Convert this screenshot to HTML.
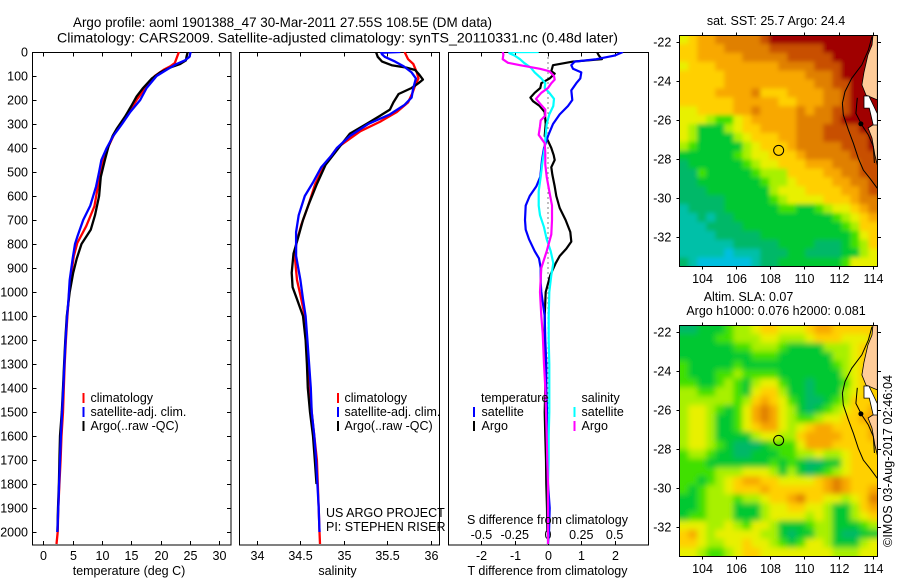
<!DOCTYPE html>
<html>
<head>
<meta charset="utf-8">
<title>Argo profile</title>
<style>
html,body{margin:0;padding:0;background:#fff;}
svg{display:block;font-family:"Liberation Sans",sans-serif;font-size:12.5px;fill:#000;}
</style>
</head>
<body>
<svg id="fig" xmlns="http://www.w3.org/2000/svg" width="900" height="580" viewBox="0 0 900 580">
<defs>
<clipPath id="clipSst"><rect x="679.3" y="35" width="198" height="231"/></clipPath>
<clipPath id="clipSla"><rect x="679.3" y="325" width="198" height="231.5"/></clipPath>
<clipPath id="clipP1"><rect x="32.5" y="52" width="198.5" height="493"/></clipPath>
<clipPath id="clipP2"><rect x="239.5" y="52" width="200" height="493"/></clipPath>
<clipPath id="clipP3"><rect x="448.5" y="52" width="200" height="493"/></clipPath>
<filter id="blurSst" filterUnits="userSpaceOnUse" x="640" y="0" width="260" height="300"><feGaussianBlur stdDeviation="2"/></filter>
<filter id="blurSla" filterUnits="userSpaceOnUse" x="640" y="290" width="260" height="300"><feGaussianBlur stdDeviation="3"/></filter>
</defs>
<text x="73" y="27" font-size="14" textLength="419" lengthAdjust="spacingAndGlyphs">Argo profile: aoml 1901388_47 30-Mar-2011 27.55S 108.5E (DM data)</text>
<text x="57" y="42.5" font-size="14" textLength="561" lengthAdjust="spacingAndGlyphs">Climatology: CARS2009. Satellite-adjusted climatology: synTS_20110331.nc (0.48d later)</text>

<g id="maps"></g>
<g id="axes"></g>
<g id="series"></g>

<g>
<rect x="82.5" y="393" width="2" height="10" fill="#f00"/>
<rect x="82.5" y="407" width="2" height="10" fill="#00f"/>
<rect x="82.5" y="421" width="2" height="10" fill="#000"/>
<text x="90.5" y="402">climatology</text>
<text x="90.5" y="416">satellite-adj. clim.</text>
<text x="90.5" y="430">Argo(..raw -QC)</text>
</g>
<g>
<rect x="337" y="393" width="2" height="10" fill="#f00"/>
<rect x="337" y="407" width="2" height="10" fill="#00f"/>
<rect x="337" y="421" width="2" height="10" fill="#000"/>
<text x="344.5" y="402">climatology</text>
<text x="344.5" y="416">satellite-adj. clim.</text>
<text x="344.5" y="430">Argo(..raw -QC)</text>
<text x="326" y="517">US ARGO PROJECT</text>
<text x="326" y="531">PI: STEPHEN RISER</text>
</g>
<g>
<rect x="473" y="407" width="2" height="10" fill="#00f"/>
<rect x="473" y="421" width="2" height="10" fill="#000"/>
<rect x="573.5" y="407" width="2" height="10" fill="#0ff"/>
<rect x="573.5" y="421" width="2" height="10" fill="#f0f"/>
<text x="481" y="402">temperature</text>
<text x="481.5" y="416">satellite</text>
<text x="481.5" y="430">Argo</text>
<text x="581.5" y="402">salinity</text>
<text x="581.5" y="416">satellite</text>
<text x="581.5" y="430">Argo</text>
</g>
<text x="129" y="575" text-anchor="middle">temperature (deg C)</text>
<text x="337.5" y="575" text-anchor="middle">salinity</text>
<text x="547.5" y="524" text-anchor="middle">S difference from climatology</text>
<text x="547.5" y="575" text-anchor="middle">T difference from climatology</text>
<text x="776" y="25" text-anchor="middle">sat. SST: 25.7 Argo: 24.4</text>
<text x="748.5" y="301" text-anchor="middle">Altim. SLA: 0.07</text>
<text x="776" y="315" text-anchor="middle">Argo h1000: 0.076 h2000: 0.081</text>
<text transform="translate(892,547) rotate(-90)" textLength="172">©IMOS 03-Aug-2017 02:46:04</text>
</svg>
<script>
// ---- profile data (depth in metres) ----
const depthTicks = [0,100,200,300,400,500,600,700,800,900,1000,1100,1200,1300,1400,1500,1600,1700,1800,1900,2000];
const tempTicks = [0,5,10,15,20,25,30];
const salTicks = [34,34.5,35,35.5,36];
const tDiffTicks = [-2,-1,0,1,2];
const sDiffTicks = [-0.5,-0.25,0,0.25,0.5];
const sDiffLabels = ['-0.5','-0.25','0','0.25','0.5'];
const latTicks = [-22,-24,-26,-28,-30,-32];
const lonTicks = [104,106,108,110,112,114];

const climTDepths = [0,46,60,74,100,143,200,254,337,393,476,560,643,726,796,851,935,1004,1100,1200,1300,1400,1500,1600,1700,1800,1900,2000,2050];
const climTValues = [23.1,22.4,21.6,20.5,19,17.6,15.9,14.5,12.2,11.1,9.9,9.3,8.7,7.3,5.8,5.2,4.7,4.4,4.1,3.85,3.65,3.5,3.35,3.1,2.95,2.75,2.55,2.45,2.25];
const argoTDepths = [0,20,35,50,65,85,110,150,185,225,270,320,350,393,450,520,600,680,740,800,860,920,1000,1100,1200,1300,1400,1500,1600,1700,1800,1900,2000];
const argoTValues = [24.6,24.4,24.3,23.3,21.6,19.9,18.5,17,15.9,15,13.9,12.5,11.8,11.1,10.5,9.8,9.5,8.8,8.1,6.5,5.7,5.1,4.5,4.0,3.75,3.55,3.35,3.15,2.85,2.75,2.65,2.5,2.4];
const satTDepths = [0,20,35,50,70,100,150,200,250,300,350,400,450,500,560,640,700,770,800,860,950,1030,1100,1200,1300,1400,1500,1600,1700,1800,1900,2000];
const satTValues = [25.1,24.9,24.1,22.7,21.3,19.3,17.6,16.5,14.8,13.4,11.9,10.8,9.9,9.5,9,8,6.8,5.8,5.4,5,4.5,4.3,4.05,3.8,3.6,3.4,3.2,3.0,2.85,2.7,2.55,2.4];

const climSDepths = [0,30,50,85,110,140,170,210,250,290,330,400,470,550,640,720,800,870,950,1030,1100,1200,1300,1400,1500,1600,1700,1800,1900,2000,2050];
const climSValues = [35.70,35.74,35.80,35.84,35.86,35.82,35.79,35.74,35.61,35.42,35.19,34.92,34.78,34.67,34.59,34.51,34.45,34.44,34.46,34.51,34.55,34.57,34.59,34.61,34.63,34.66,34.69,34.70,34.71,34.72,34.725];
const argoSDepths = [0,20,40,55,65,75,95,115,130,150,175,210,240,265,300,340,400,470,550,640,700,790,840,920,980,1030,1100,1200,1300,1400,1500,1600,1700,1800];
const argoSValues = [35.37,35.39,35.44,35.55,35.72,35.82,35.87,35.91,35.86,35.78,35.63,35.57,35.53,35.42,35.26,35.07,34.94,34.79,34.69,34.59,34.53,34.46,34.42,34.40,34.41,34.46,34.53,34.56,34.575,34.585,34.61,34.645,34.665,34.685];
const satSDepths = [0,3,10,20,40,60,85,110,150,190,220,260,300,350,400,430,480,540,600,680,750,850,950,1030,1100,1200,1300,1400,1500,1600,1700,1800,1900,2000];
const satSValues = [35.65,35.43,35.44,35.47,35.59,35.69,35.78,35.83,35.80,35.78,35.70,35.53,35.28,35.07,34.92,34.86,34.74,34.65,34.55,34.48,34.45,34.45,34.50,34.53,34.56,34.58,34.60,34.62,34.63,34.66,34.68,34.695,34.71,34.72];

const satDtDepths = [0,15,30,40,55,70,85,110,130,160,200,225,260,300,350,400,450,520,560,600,640,700,740,780,830,860,900,960,1000,1100,1200,1300,1400,1500,1600,1700,1800,1900,2000,2050];
const satDtValues = [2.25,2.0,1.45,0.8,0.7,0.75,1.0,0.97,0.85,0.7,0.73,0.6,0.35,0.15,0,-0.12,-0.18,-0.23,-0.35,-0.55,-0.67,-0.69,-0.67,-0.57,-0.4,-0.27,-0.22,-0.22,-0.2,-0.1,-0.08,-0.05,-0.05,-0.03,-0.03,-0.02,0,0.05,0.03,0];
const argoDtDepths = [0,15,30,40,55,80,90,110,130,150,170,190,205,225,250,300,350,370,400,430,450,480,510,560,600,650,700,750,790,820,850,880,930,1000,1100,1200,1300,1400,1500,1600,1700,1800,1900,2000];
const argoDtValues = [1.47,1.53,1.62,0.75,0.15,0.1,0.2,0.05,-0.2,-0.23,-0.4,-0.53,-0.45,-0.25,-0.1,-0.07,-0.1,0,0.1,0.17,0.2,0.1,0.13,0.2,0.25,0.35,0.53,0.67,0.7,0.55,0.35,0.23,0.07,-0.07,-0.1,-0.1,-0.08,-0.08,-0.1,-0.08,-0.06,-0.05,-0.03,-0.02];
const satDsDepths = [0,1,5,15,30,45,65,85,110,130,150,170,195,225,260,300,350,400,450,520,580,640,680,730,780,830,880,930,1000,1100,1200,1300,1400,1500,1600,1700,1800,1900,2000,2050];
const satDsValues = [-0.07,-0.29,-0.29,-0.25,-0.21,-0.18,-0.13,-0.10,-0.05,-0.02,-0.025,0.01,0.045,0.04,0.01,-0.01,-0.018,-0.025,-0.04,-0.055,-0.07,-0.07,-0.06,-0.03,-0.01,0.02,0.04,0.025,0.01,0.005,0.005,0.01,0.01,0.01,0.005,0.005,0,0,0,0];
const argoDsDepths = [0,10,30,45,55,70,80,100,115,130,150,170,195,215,240,265,285,310,345,380,420,470,520,580,640,700,760,830,900,1000,1100,1172,1300,1400,1500,1600,1700,1800,2050];
const argoDsValues = [-0.34,-0.335,-0.34,-0.30,-0.21,-0.06,0.01,0.045,0.05,0.025,0,-0.05,-0.09,-0.06,-0.02,-0.02,-0.055,-0.06,-0.07,-0.025,-0.02,-0.02,-0.01,0.01,0.03,0.03,0.025,-0.01,-0.05,-0.06,-0.05,-0.04,-0.03,-0.02,-0.015,-0.01,-0.005,0,0];

// ---- map data: colour level per grid cell, row by row from north to south ----
const sstRow00 = [6,7,8,8,9,9,9,9,9,10,11,11,11,11,11,11,11,11,11,11,11,11];
const sstRow01 = [7,7,8,8,8,9,9,9,9,9,10,10,10,10,10,10,11,11,11,11,11,11];
const sstRow02 = [7,7,8,8,8,8,8,9,9,9,9,9,10,10,10,10,10,11,11,11,11,11];
const sstRow03 = [6,7,7,7,8,8,8,8,8,8,8,9,9,9,9,10,10,10,11,11,11,11];
const sstRow04 = [7,7,7,7,7,8,8,8,8,8,8,8,8,8,9,9,9,10,11,11,11,11];
const sstRow05 = [7,7,7,7,7,8,8,8,8,8,8,8,8,8,8,9,9,10,10,11,11,11];
const sstRow06 = [7,7,7,7,8,8,8,8,9,7,7,7,8,8,8,8,9,9,10,11,11,11];
const sstRow07 = [7,7,7,7,7,7,8,8,8,8,8,7,7,8,8,8,9,9,10,11,11,11];
const sstRow08 = [6,6,7,7,7,7,8,8,9,8,8,8,8,9,8,9,9,10,10,11,11,11];
const sstRow09 = [6,6,6,5,4,4,6,7,8,8,8,8,8,9,9,9,9,10,11,11,11,11];
const sstRow10 = [6,5,3,3,3,5,6,7,7,8,8,8,8,9,9,9,10,10,10,10,11,11];
const sstRow11 = [6,5,3,3,3,3,5,6,7,7,7,8,8,9,9,9,10,10,10,10,10,11];
const sstRow12 = [5,4,3,3,3,3,3,5,6,7,7,7,8,9,9,9,9,9,10,10,10,11];
const sstRow13 = [3,3,3,3,3,3,4,5,6,6,7,7,7,8,9,9,9,9,9,10,10,10];
const sstRow14 = [2,3,3,3,3,3,3,4,5,6,6,7,7,7,8,8,8,9,9,9,10,10];
const sstRow15 = [2,2,4,3,3,3,3,3,4,5,5,5,7,7,7,7,8,8,9,9,10,10];
const sstRow16 = [2,2,3,3,3,3,3,3,3,4,5,5,6,7,7,7,7,8,8,9,9,10];
const sstRow17 = [2,2,2,3,3,3,3,3,3,3,5,6,6,6,7,7,7,7,8,8,9,10];
const sstRow18 = [2,2,2,2,2,3,3,3,3,3,4,5,6,6,6,6,7,7,7,8,9,9];
const sstRow19 = [1,2,2,2,2,3,3,3,3,3,3,4,4,3,3,4,5,6,6,7,8,9];
const sstRow20 = [1,1,2,1,2,2,3,3,3,3,3,3,3,3,3,3,3,4,5,6,7,8];
const sstRow21 = [1,1,1,2,2,2,2,3,3,3,3,3,3,3,3,3,3,3,4,5,7,7];
const sstRow22 = [1,1,1,1,2,2,2,2,2,3,3,3,3,3,3,3,3,3,3,4,6,7];
const sstRow23 = [1,1,1,1,1,1,2,2,2,2,2,3,3,3,3,2,2,2,3,4,5,7];
const sstRow24 = [1,1,1,1,1,0,1,1,1,2,2,2,3,3,2,2,2,2,3,3,5,6];
const sstRow25 = [2,1,0,0,0,0,0,0,1,2,2,3,3,3,3,3,3,3,4,6,6,6];
const sstGrid = [sstRow00,sstRow01,sstRow02,sstRow03,sstRow04,sstRow05,sstRow06,sstRow07,sstRow08,sstRow09,sstRow10,sstRow11,sstRow12,sstRow13,sstRow14,sstRow15,sstRow16,sstRow17,sstRow18,sstRow19,sstRow20,sstRow21,sstRow22,sstRow23,sstRow24,sstRow25];

const slaRow00 = [2,2,3,3,3,4,5,5,6,7,7,6,6,6,7,8,8,7,7,7,7,7];
const slaRow01 = [3,3,3,3,4,4,5,5,5,6,6,5,5,5,6,7,7,7,6,6,6,7];
const slaRow02 = [3,3,3,3,3,3,4,4,5,5,5,4,3,3,3,3,5,5,5,6,7,7];
const slaRow03 = [3,3,3,3,3,3,3,3,4,4,4,3,3,3,3,3,3,5,5,6,7,7];
const slaRow04 = [4,3,3,3,3,3,4,3,3,3,3,3,3,3,3,3,3,4,5,6,7,7];
const slaRow05 = [4,3,3,3,4,4,5,4,4,4,4,3,3,3,3,3,3,3,5,6,7,7];
const slaRow06 = [4,4,3,3,4,5,4,3,5,6,6,4,3,3,2,3,3,3,4,6,7,7];
const slaRow07 = [5,5,4,4,5,5,4,3,6,7,7,5,3,3,2,3,3,3,5,6,7,7];
const slaRow08 = [5,5,5,5,5,5,4,5,7,8,7,6,4,3,2,2,3,4,5,7,7,7];
const slaRow09 = [5,6,6,5,4,3,4,6,8,9,8,6,5,3,2,3,4,5,6,7,7,8];
const slaRow10 = [5,6,6,5,3,3,4,6,8,9,8,6,5,4,4,5,6,6,7,7,8,8];
const slaRow11 = [5,6,6,5,3,3,4,6,7,8,8,6,5,6,7,8,8,7,7,7,7,8];
const slaRow12 = [5,6,6,5,3,3,3,3,5,6,6,5,5,7,8,8,8,8,7,7,7,8];
const slaRow13 = [5,6,6,5,4,3,2,2,2,3,4,4,4,6,8,8,8,7,7,7,7,7];
const slaRow14 = [4,5,5,4,3,3,2,2,3,3,3,4,4,5,5,6,5,5,6,7,7,7];
const slaRow15 = [4,4,4,3,3,3,3,3,3,3,4,3,4,3,2,2,3,3,6,7,7,7];
const slaRow16 = [4,4,4,4,5,5,5,6,6,6,5,3,5,3,2,3,4,5,6,7,7,7];
const slaRow17 = [4,4,3,4,5,6,7,8,8,7,7,6,6,6,6,7,8,9,8,7,7,7];
const slaRow18 = [4,3,4,5,5,6,7,7,7,8,7,7,7,7,7,7,8,9,8,7,7,8];
const slaRow19 = [3,3,4,5,5,5,4,5,5,6,7,7,8,9,7,7,6,6,5,6,7,9];
const slaRow20 = [3,3,4,5,5,5,3,3,3,5,6,6,7,7,6,6,5,3,3,5,7,8];
const slaRow21 = [3,4,4,5,5,5,3,3,3,5,6,6,6,6,5,6,5,3,3,5,6,7];
const slaRow22 = [6,6,6,5,5,6,5,4,6,6,5,3,3,3,4,5,5,3,3,3,4,5];
const slaRow23 = [7,8,6,5,6,6,6,6,6,5,5,3,2,3,3,5,5,3,2,2,3,3];
const slaRow24 = [7,7,6,5,5,6,6,7,6,6,5,4,3,4,6,6,5,3,3,3,5,6];
const slaRow25 = [6,6,5,4,4,5,6,7,7,6,6,6,6,6,6,6,6,5,5,5,6,6];
const slaGrid = [slaRow00,slaRow01,slaRow02,slaRow03,slaRow04,slaRow05,slaRow06,slaRow07,slaRow08,slaRow09,slaRow10,slaRow11,slaRow12,slaRow13,slaRow14,slaRow15,slaRow16,slaRow17,slaRow18,slaRow19,slaRow20,slaRow21,slaRow22,slaRow23,slaRow24,slaRow25];

const levelColors = ['#00bfe0','#00c0a8','#00b868','#00c830','#40e000','#a8f000','#e8f000','#ffd000','#f8a800','#e08000','#c85000','#a00000'];

const shelfLon = [113.96,113.75,113.36,112.77,112.38,112.23,112.28,112.58,112.87,113.16,113.45,113.84,114.27];
const shelfLat = [-21.71,-22.39,-23.16,-23.85,-24.53,-25.13,-25.73,-26.5,-27.19,-27.96,-28.56,-28.99,-29.5];
const coastLon = [113.1,113.05,113.02,113.36,113.75,114.04,114.1];
const coastLat = [-24.85,-25.3,-25.65,-26.25,-26.76,-27.36,-28.2];
const landNorthLon = [114.02,114.27,114.27,113.61,113.37,113.49,113.72,113.96];
const landNorthLat = [-21.62,-21.62,-24.96,-24.71,-24.19,-23.53,-22.65,-22.14];
const landSouthLon = [113.73,114.27,114.27,114.13,113.96];
const landSouthLat = [-26.4,-26.1,-28.3,-27.79,-26.92];
const bayLon = [113.49,113.78,114.27,114.27,114.03,113.8,113.49];
const bayLat = [-24.76,-24.76,-25.66,-26.25,-26.25,-25.38,-25.38];
const floatLon = 108.5;
const floatLat = -27.55;

// ---- axis functions ----
const NS = 'http://www.w3.org/2000/svg';
const yDepth = d => 52 + 0.24 * d;
const xTemp = t => 43.3 + 5.87 * t;
const xSal = s => 257 + 86.85 * (s - 34);
const xDt = v => 548 + 33.3 * v;
const xDs = v => 548 + 133.2 * v;
const xLon = l => 701.7 + 17.1 * (l - 104);
const ySst = l => 42.3 + 19.47 * (-22 - l);
const ySla = l => 332.3 + 19.47 * (-22 - l);

function mk(parent, tag, attrs) {
  const el = document.createElementNS(NS, tag);
  for (const k in attrs) el.setAttribute(k, attrs[k]);
  parent.appendChild(el);
  return el;
}
function tickLine(parent, x1, y1, x2, y2) {
  const el = mk(parent, 'line', {x1, y1, x2, y2, stroke: '#000', 'stroke-width': 1, 'shape-rendering': 'crispEdges'});
  
  
}
function label(parent, x, y, anchor, txt) {
  const el = mk(parent, 'text', {x, y, 'text-anchor': anchor});
  el.textContent = txt;
  
  
}
function frame(parent, x, y, w, h) {
  const el = mk(parent, 'rect', {x, y, width: w, height: h, fill: 'none', stroke: '#000', 'stroke-width': 1, 'shape-rendering': 'crispEdges'});
  
  
}
function drawLine(parent, clip, xs, ys, fx, color, w) {
  const pts = xs.map((v, i) => fx(v).toFixed(1) + ',' + yDepth(ys[i]).toFixed(1)).join(' ');
  const el = mk(parent, 'polyline', {points: pts, fill: 'none', stroke: color, 'stroke-width': w, 'stroke-linejoin': 'round', 'clip-path': 'url(#' + clip + ')'});
  
  
}

// ---- profile panels ----
const axesG = document.getElementById('axes');
const seriesG = document.getElementById('series');
frame(axesG, 32.5, 52.5, 198.5, 492.5);
frame(axesG, 239.5, 52.5, 200, 492.5);
frame(axesG, 448.5, 52.5, 200, 492.5);
depthTicks.forEach(d => {
  const y = Math.round(yDepth(d)) + 0.5;
  tickLine(axesG, 32.5, y, 36.5, y);
  tickLine(axesG, 227, y, 231, y);
  label(axesG, 28, y + 4, 'end', String(d));
});
tempTicks.forEach(t => {
  const x = Math.round(xTemp(t)) + 0.5;
  tickLine(axesG, x, 52.5, x, 56.5);
  tickLine(axesG, x, 541, x, 545);
  label(axesG, x, 560, 'middle', String(t));
});
salTicks.forEach(s => {
  const x = Math.round(xSal(s)) + 0.5;
  tickLine(axesG, x, 52.5, x, 56.5);
  tickLine(axesG, x, 541, x, 545);
  label(axesG, x, 560, 'middle', String(s));
});
tDiffTicks.forEach(v => {
  const x = Math.round(xDt(v)) + 0.5;
  tickLine(axesG, x, 52.5, x, 56.5);
  tickLine(axesG, x, 541, x, 545);
  label(axesG, x, 560, 'middle', String(v));
});
sDiffTicks.forEach((v, i) => {
  label(axesG, xDs(v), 539, 'middle', sDiffLabels[i]);
});
const zeroLine = mk(axesG, 'line', {x1: xDt(0), y1: 52.5, x2: xDt(0), y2: 545, stroke: '#000', 'stroke-width': 1, 'stroke-dasharray': '1 4'});



drawLine(seriesG, 'clipP1', climTValues, climTDepths, xTemp, '#f00', 2.3);
drawLine(seriesG, 'clipP1', argoTValues, argoTDepths, xTemp, '#000', 2.3);
drawLine(seriesG, 'clipP1', satTValues, satTDepths, xTemp, '#00f', 2.3);
drawLine(seriesG, 'clipP2', climSValues, climSDepths, xSal, '#f00', 2.3);
drawLine(seriesG, 'clipP2', argoSValues, argoSDepths, xSal, '#000', 2.3);
drawLine(seriesG, 'clipP2', satSValues, satSDepths, xSal, '#00f', 2.3);
drawLine(seriesG, 'clipP3', argoDtValues, argoDtDepths, xDt, '#000', 2.2);
drawLine(seriesG, 'clipP3', satDtValues, satDtDepths, xDt, '#00f', 2.2);
drawLine(seriesG, 'clipP3', satDsValues, satDsDepths, xDs, '#0ff', 2.2);
drawLine(seriesG, 'clipP3', argoDsValues, argoDsDepths, xDs, '#f0f', 2.2);

// ---- maps ----
const mapsG = document.getElementById('maps');
function drawMap(grid, top, bottom, fy, clip, blur, cellName) {
  const outer = mk(mapsG, 'g', {'clip-path': 'url(#' + clip + ')'});
  
  
  const cells = mk(outer, 'g', {filter: 'url(#' + blur + ')'});
  
  
  const cw = 9, ch = 8.9, left = 679.3;
  grid.forEach((row, j) => row.forEach((lvl, i) => {
    const ex0 = i === 0 ? 20 : 0, ex1 = i === row.length - 1 ? 20 : 0;
    const ey0 = j === 0 ? 20 : 0, ey1 = j === grid.length - 1 ? 20 : 0;
    const c = mk(cells, 'rect', {x: left + i * cw - ex0, y: top + j * ch - ey0, width: cw + 0.5 + ex0 + ex1, height: ch + 0.5 + ey0 + ey1, fill: levelColors[lvl]});
    
    
  }));
  const poly = (lons, lats, fill) => {
    const pts = lons.map((l, i) => xLon(l).toFixed(1) + ',' + fy(lats[i]).toFixed(1)).join(' ');
    const el = mk(outer, 'polygon', {points: pts, fill: fill, stroke: '#000', 'stroke-width': 0.8});
    
    
  };
  poly(landNorthLon, landNorthLat, '#ffcc99');
  poly(landSouthLon, landSouthLat, '#ffcc99');
  poly(bayLon, bayLat, '#ffffff');
  const line = (lons, lats, name) => {
    const pts = lons.map((l, i) => xLon(l).toFixed(1) + ',' + fy(lats[i]).toFixed(1)).join(' ');
    const el = mk(outer, 'polyline', {points: pts, fill: 'none', stroke: '#000', 'stroke-width': 1});
    
    
  };
  line(shelfLon, shelfLat, 'shelf-contour');
  line(coastLon, coastLat, 'coast-line');
  const blob = mk(outer, 'circle', {cx: xLon(113.31), cy: fy(-26.19), r: 2.5, fill: '#000'});
  
  
  const marker = mk(outer, 'circle', {cx: xLon(floatLon), cy: fy(floatLat), r: 5, fill: 'none', stroke: '#000', 'stroke-width': 1});
  
  
  const h = bottom - top;
  frame(mapsG, left, top + 0.5, 198, h);
  lonTicks.forEach(l => {
    const x = Math.round(xLon(l)) + 0.5;
    tickLine(mapsG, x, top - 2.5, x, top + 0.5);
    tickLine(mapsG, x, bottom + 0.5, x, bottom + 3.5);
    label(mapsG, x, bottom + 17, 'middle', String(l));
  });
  latTicks.forEach(l => {
    const y = Math.round(fy(l)) + 0.5;
    tickLine(mapsG, left - 3, y, left, y);
    tickLine(mapsG, left + 198, y, left + 201.5, y);
    label(mapsG, left - 8, y + 4, 'end', String(l));
  });
}
drawMap(sstGrid, 35, 266, ySst, 'clipSst', 'blurSst', 'sst-cell');
drawMap(slaGrid, 325, 556, ySla, 'clipSla', 'blurSla', 'sla-cell');
</script>
</body>
</html>
